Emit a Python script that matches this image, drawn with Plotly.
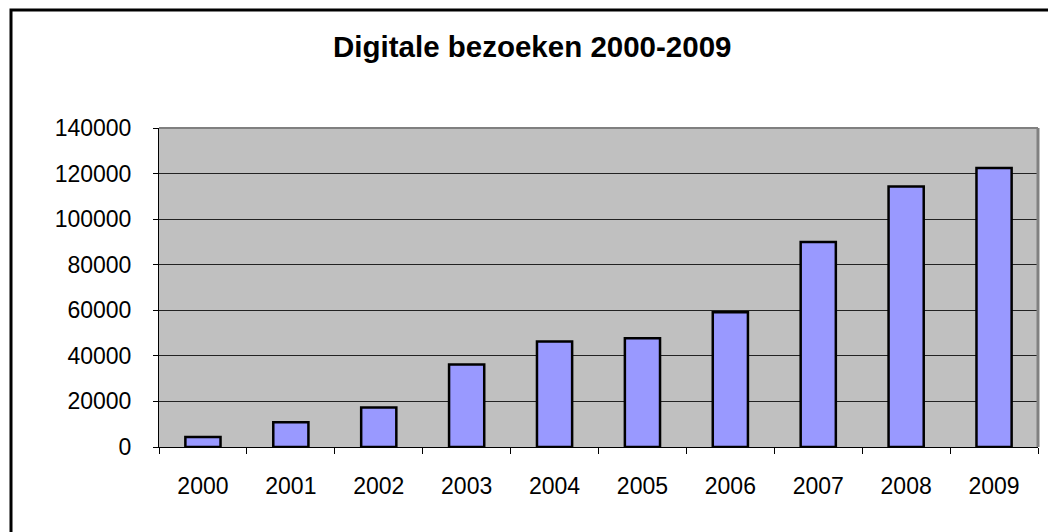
import plotly.graph_objects as go

years = ["2000", "2001", "2002", "2003", "2004", "2005", "2006", "2007", "2008", "2009"]
visits = [4400, 10900, 17300, 36200, 46300, 47700, 59100, 90000, 114300, 122400]
y_ticks = [0, 20000, 40000, 60000, 80000, 100000, 120000, 140000]
title_text = "Digitale bezoeken 2000-2009"

W, H = 1056, 532
OFF = 8  # page body margin
# target plot area in screen pixels
L, R, T, B = 159, 1038, 128, 447
pw, ph = R - L, B - T

def px(x):
    return (x - L) / pw

def py(y):
    return (B - y) / ph

font_family = "Arial, Liberation Sans, sans-serif"

fig = go.Figure(go.Bar(
    x=years, y=visits,
    marker=dict(color="#9999FF", line=dict(color="black", width=2.5)),
))

fig.update_layout(
    width=W, height=H,
    margin=dict(l=L - OFF, r=W - (R - OFF), t=T - OFF, b=H - (B - OFF), pad=0),
    paper_bgcolor="white",
    plot_bgcolor="#C0C0C0",
    bargap=0.6,
    showlegend=False,
    font=dict(family=font_family, size=23, color="black"),
    xaxis=dict(
        type="category",
        tickson="boundaries",
        ticks="outside", ticklen=6, tickcolor="black", tickwidth=1,
        showline=True, linecolor="black", linewidth=1,
        showgrid=False,
        tickfont=dict(size=23),
        ticklabelstandoff=18,
    ),
    yaxis=dict(
        range=[0, 140000],
        tickvals=y_ticks,
        tickformat="d",
        ticks="outside", ticklen=5, tickcolor="black", tickwidth=1,
        showline=True, linecolor="black", linewidth=1,
        showgrid=True, gridcolor="#222222", gridwidth=1,
        zeroline=False,
        tickfont=dict(size=23),
        ticklabelstandoff=17,
    ),
    annotations=[dict(
        text="<b>" + title_text + "</b>",
        xref="paper", yref="paper",
        x=px(532), y=py(46), xanchor="center", yanchor="middle",
        showarrow=False, font=dict(family=font_family, size=29.5, color="black"),
    )],
    shapes=[
        dict(type="line", xref="paper", yref="paper", x0=0, x1=1, y0=1, y1=1,
             line=dict(color="#808080", width=2)),
        dict(type="line", xref="paper", yref="paper", x0=1, x1=1, y0=0, y1=1,
             line=dict(color="#808080", width=3)),
        dict(type="rect", xref="paper", yref="paper",
             x0=px(11), x1=px(1070), y0=py(10), y1=py(545),
             line=dict(color="black", width=3), fillcolor="rgba(0,0,0,0)"),
    ],
)

fig.write_html("out.html")
